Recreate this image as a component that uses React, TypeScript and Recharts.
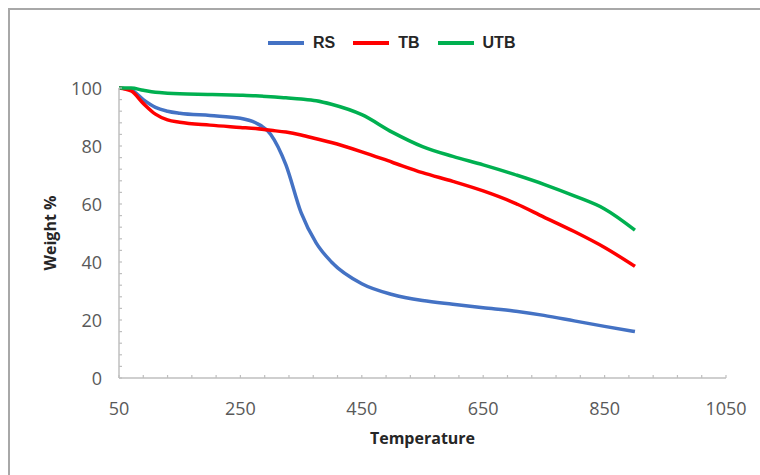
import React from "react";
import { LineChart, Line, XAxis, YAxis } from "recharts";

// temperature grid (°C) and weight %
const temps = [50, 70, 90, 110, 130, 150, 200, 250, 275, 300, 325, 350, 375, 400, 450, 500, 550, 600, 650, 700, 750, 800, 850, 900];
const rsWeight = [100, 99.3, 96, 93.3, 92, 91.3, 90.5, 89.6, 88, 84, 73.5, 57, 46.5, 40, 32.5, 28.8, 26.7, 25.4, 24.2, 23.1, 21.6, 19.7, 17.8, 16];
const tbWeight = [100, 99, 94.7, 91, 89, 88.2, 87.2, 86.4, 86, 85.4, 84.8, 83.8, 82.5, 81.2, 78, 74.4, 70.8, 67.8, 64.5, 60.5, 55.5, 50.5, 45, 38.5];
const utbWeight = [100, 100, 99.2, 98.5, 98.2, 98, 97.8, 97.5, 97.3, 97, 96.6, 96.2, 95.6, 94.4, 90.8, 84.8, 79.8, 76.4, 73.5, 70.3, 66.8, 62.8, 58.3, 51];

const xTicks = [50, 90, 130, 170, 210, 250, 290, 330, 370, 410, 450, 490, 530, 570, 610, 650, 690, 730, 770, 810, 850, 890, 930, 970, 1010, 1050];
const xLabels = [50, 250, 450, 650, 850, 1050];
const yTicks = [0, 4, 8, 12, 16, 20, 24, 28, 32, 36, 40, 44, 48, 52, 56, 60, 64, 68, 72, 76, 80, 84, 88, 92, 96, 100];
const yLabels = [0, 20, 40, 60, 80, 100];

const series = [
  { key: "rs", name: "RS", color: "#4472C4" },
  { key: "tb", name: "TB", color: "#FF0000" },
  { key: "utb", name: "UTB", color: "#00B050" },
];

const data = temps.map((t, i) => ({ t, rs: rsWeight[i], tb: tbWeight[i], utb: utbWeight[i] }));

const AXIS = "#bfbfbf";
const TICK_FONT = "'Open Sans', sans-serif";

function XTick({ x, y, payload }: any) {
  const v = payload.value;
  return (
    <g>
      <line x1={x} x2={x} y1={y} y2={y - 3} stroke={AXIS} strokeWidth={1.2} />
      {xLabels.includes(v) && (
        <text x={x} y={y + 37} textAnchor="middle" fill="#595959" fontSize={18} fontFamily={TICK_FONT}>
          {v}
        </text>
      )}
    </g>
  );
}

function YTick({ x, y, payload }: any) {
  const v = payload.value;
  return (
    <g>
      <line x1={x} x2={x + 3} y1={y} y2={y} stroke={AXIS} strokeWidth={1.2} />
      {yLabels.includes(v) && (
        <text x={x - 17} y={y + 6.5} textAnchor="end" fill="#595959" fontSize={18} fontFamily={TICK_FONT}>
          {v}
        </text>
      )}
    </g>
  );
}

export default function App() {
  return (
    <div
      style={{
        position: "fixed",
        top: 8,
        left: 8,
        width: 752,
        height: 467,
        boxSizing: "border-box",
        borderTop: "2px solid #a8a8a8",
        borderLeft: "2px solid #a8a8a8",
        overflow: "hidden",
        background: "#fff",
      }}
    >
      {/* legend */}
      <div
        style={{
          position: "absolute",
          top: 24,
          left: 258,
          height: 18,
          display: "flex",
          alignItems: "center",
          fontFamily: "'Liberation Sans', Arial, sans-serif",
          fontWeight: "bold",
          fontSize: 16,
          color: "#262626",
        }}
      >
        {series.map((s) => (
          <div key={s.key} style={{ display: "flex", alignItems: "center", marginRight: 18 }}>
            <span style={{ display: "inline-block", width: 36, height: 4, background: s.color, marginRight: 9 }} />
            <span>{s.name}</span>
          </div>
        ))}
      </div>

      <LineChart width={750} height={465} data={data} margin={{ top: 78, right: 34, bottom: 37, left: 0 }}>
        <XAxis
          type="number"
          dataKey="t"
          domain={[50, 1050]}
          ticks={xTicks}
          interval={0}
          tickSize={0}
          tickMargin={0}
          height={60}
          axisLine={{ stroke: AXIS, strokeWidth: 1.5 }}
          tickLine={false}
          tick={<XTick />}
          label={{
            value: "Temperature",
            position: "insideBottom",
            offset: -6,
            style: { fontFamily: "'Open Sans', sans-serif", fontWeight: 700, fontSize: 16, fill: "#262626" },
          }}
        />
        <YAxis
          type="number"
          domain={[0, 100]}
          ticks={yTicks}
          interval={0}
          tickSize={0}
          tickMargin={0}
          width={109}
          axisLine={{ stroke: AXIS, strokeWidth: 1.5 }}
          tickLine={false}
          tick={<YTick />}
          label={{
            value: "Weight %",
            angle: -90,
            position: "insideLeft",
            offset: 40,
            style: { textAnchor: "middle", fontFamily: "'Open Sans', sans-serif", fontWeight: 700, fontSize: 16, fill: "#262626" },
          }}
        />
        {series.map((s) => (
          <Line
            key={s.key}
            type="monotone"
            dataKey={s.key}
            name={s.name}
            stroke={s.color}
            strokeWidth={3.5}
            dot={false}
            isAnimationActive={false}
          />
        ))}
      </LineChart>
    </div>
  );
}
